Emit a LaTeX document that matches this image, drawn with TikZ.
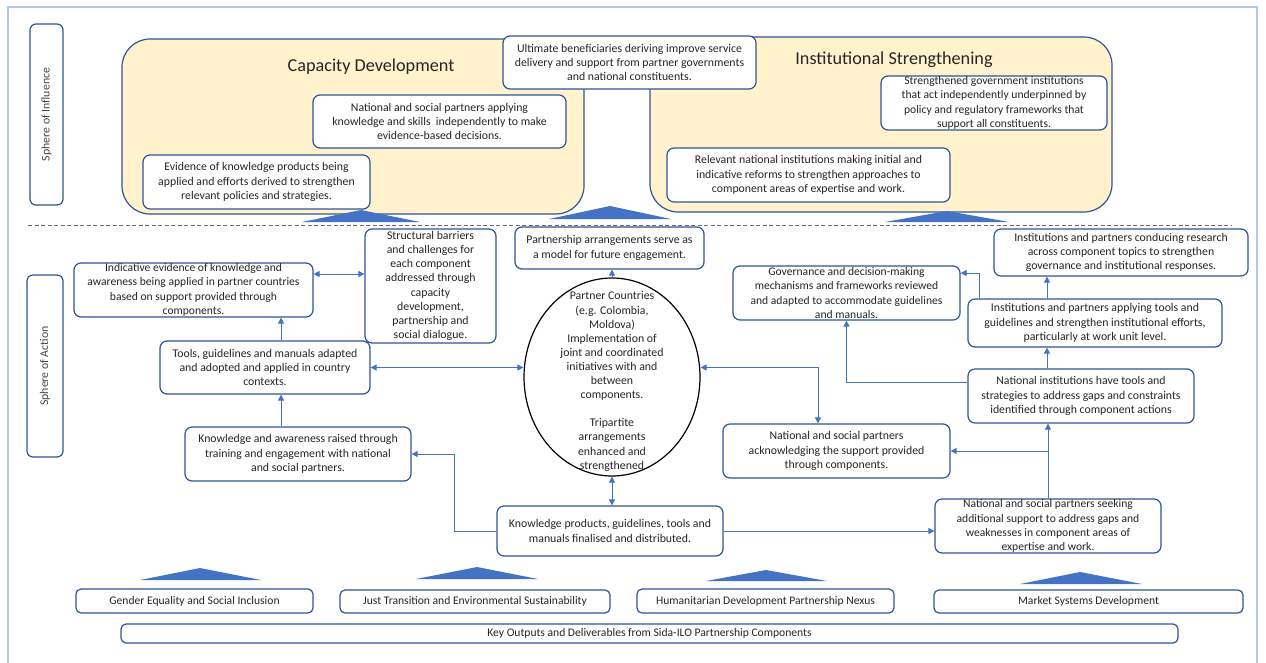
\documentclass[tikz,border=0pt]{standalone}
\usepackage{fontspec}
\setmainfont{Carlito}
\usetikzlibrary{arrows.meta,calc,shapes.geometric}
\definecolor{bord}{HTML}{2F5597}
\definecolor{lnk}{HTML}{4472C4}
\definecolor{cream}{HTML}{FFF2CC}
\definecolor{txt}{HTML}{262626}
\definecolor{frm}{HTML}{B4C7E7}
\begin{document}
\begin{tikzpicture}[x=1pt,y=-1pt,
  box/.style={draw=bord, line width=1.2pt, rounded corners=7pt, fill=white, align=center, inner sep=0pt, text=txt, font=\fontsize{11.8}{14.2}\selectfont},
  sbox/.style={box, font=\fontsize{11.6}{14.2}\selectfont},
  bbox/.style={box, rounded corners=5pt, font=\fontsize{11.6}{14}\selectfont},
  sphere/.style={draw=bord, line width=1.2pt, rounded corners=6pt, fill=white, inner sep=0pt},
  spheretext/.style={rotate=90, text=txt!85, font=\fontsize{11.8}{14}\selectfont, inner sep=0pt},
  container/.style={draw=bord, line width=1.2pt, rounded corners=28pt, fill=cream, inner sep=0pt},
  title/.style={text=txt, font=\fontsize{18.2}{22}\selectfont, inner sep=0pt},
  link/.style={draw=lnk, line width=0.9pt, -{Triangle[length=6pt,width=6pt]}},
  dlink/.style={draw=lnk, line width=0.9pt, {Triangle[length=6pt,width=6pt]}-{Triangle[length=6pt,width=6pt]}},
  tri/.style={fill=lnk}]
\useasboundingbox (0,0) rectangle (1266,662);
\fill[white] (0,0) rectangle (1266,662);
% outer frame
\draw[frm, line width=1.3pt] (8,664) -- (8,7) -- (1257,7) -- (1257,664);

% sphere labels
\node[sphere, minimum width=33pt, minimum height=181pt] (soi) at (46.5,114.5) {};
\node[spheretext] (soit) at (soi.center) {Sphere of Influence};
\node[sphere, minimum width=36pt, minimum height=182pt] (soa) at (45,366) {};
\node[spheretext] (soat) at (soa.center) {Sphere of Action};

% containers
\node[container, minimum width=462pt, minimum height=175pt] (cd) at (353,126.5) {};
\node[container, minimum width=462pt, minimum height=175pt] (is) at (881,124.5) {};
\node[title] (cdt) at (371,67) {Capacity Development};
\node[title] (ist) at (894,60) {Institutional Strengthening};

% top boxes
\node[box, minimum width=253pt, minimum height=53pt] (ult) at (629.5,62.5) {Ultimate beneficiaries deriving improve service\\delivery and support from partner governments\\and national constituents.};
\node[box, minimum width=253pt, minimum height=53pt] (napply) at (439.5,121.5) {National and social partners applying\\knowledge and skills\ \ independently to make\\evidence-based decisions.};
\node[box, minimum width=227pt, minimum height=54pt] (evid) at (256.5,182) {Evidence of knowledge products being\\applied and efforts derived to strengthen\\relevant policies and strategies.};
\node[sbox, minimum width=226pt, minimum height=54pt] (strong) at (994,103) {Strengthened government institutions\\that act independently underpinned by\\policy and regulatory frameworks that\\support all constituents.};
\node[box, minimum width=283pt, minimum height=54pt] (relev) at (808.5,175) {Relevant national institutions making initial and\\indicative reforms to strengthen approaches to\\component areas of expertise and work.};

% triangles top
\fill[tri] (302,222) -- (361,210) -- (420,222) -- cycle;
\fill[tri] (549,219) -- (610,206) -- (671,219) -- cycle;
\fill[tri] (885,222) -- (947,211) -- (1009,222) -- cycle;

% dashed separator
\draw[gray!85!black, line width=0.8pt, dash pattern=on 4pt off 2.5pt] (28,225) -- (1232,225);

% middle left
\node[box, minimum width=131pt, minimum height=114pt] (struct) at (430.5,286) {Structural barriers\\and challenges for\\each component\\addressed through\\capacity\\development,\\partnership and\\social dialogue.};
\node[sbox, minimum width=239pt, minimum height=54pt] (indic) at (193.5,290) {Indicative evidence of knowledge and\\awareness being applied in partner countries\\based on support provided through\\components.};
\node[box, minimum width=210pt, minimum height=53pt] (tools) at (265,367.5) {Tools, guidelines and manuals adapted\\and adopted and applied in country\\contexts.};
\node[box, minimum width=226pt, minimum height=54pt] (kar) at (298,454) {Knowledge and awareness raised through\\training and engagement with national\\and social partners.};

% center
\node[box, minimum width=189pt, minimum height=42pt] (partner) at (609.5,248) {Partnership arrangements serve as\\a model for future engagement.};
\node[draw=black, line width=1.2pt, ellipse, minimum width=176pt, minimum height=198pt, inner sep=0pt] (circ) at (612,377) {};
\node[align=center, text=txt, font=\fontsize{11.8}{14.1}\selectfont, inner sep=0pt] (circt) at (612,381.5) {Partner Countries\\(e.g. Colombia,\\Moldova)\\Implementation of\\joint and coordinated\\initiatives with and\\between\\components.\\[14.1pt]Tripartite\\arrangements\\enhanced and\\strengthened};
\node[box, minimum width=226pt, minimum height=50pt] (kp) at (610,531) {Knowledge products, guidelines, tools and\\manuals finalised and distributed.};

% right
\node[box, minimum width=254pt, minimum height=47pt] (research) at (1121,252.5) {Institutions and partners conducing research\\across component topics to strengthen\\governance and institutional responses.};
\node[sbox, minimum width=227pt, minimum height=54pt] (gov) at (846.5,293) {Governance and decision-making\\mechanisms and frameworks reviewed\\and adapted to accommodate guidelines\\and manuals.};
\node[box, minimum width=254pt, minimum height=48pt] (applying) at (1095,323) {Institutions and partners applying tools and\\guidelines and strengthen institutional efforts,\\particularly at work unit level.};
\node[box, minimum width=226pt, minimum height=54pt] (ni) at (1081,396) {National institutions have tools and\\strategies to address gaps and constraints\\identified through component actions};
\node[box, minimum width=227pt, minimum height=54pt] (ack) at (836.5,451) {National and social partners\\acknowledging the support provided\\through components.};
\node[sbox, minimum width=226pt, minimum height=54pt] (seek) at (1048,526) {National and social partners seeking\\additional support to address gaps and\\weaknesses in component areas of\\expertise and work.};

% connectors
\draw[dlink] ([yshift=16pt]indic.east) -- ([yshift=16pt]indic.east -| struct.west);
\draw[link] ([xshift=16pt]tools.north) -- ([xshift=16pt]tools.north |- indic.south);
\draw[link] ([xshift=-17pt]kar.north) -- ([xshift=-17pt]kar.north |- tools.south);
\draw[dlink] (tools.east) -- (tools.east -| circ.west);
\draw[link] (circ.north) -- (circ.north |- partner.south);
\draw[dlink] (circ.south) -- (circ.south |- kp.north);
\draw[link] (kp.west) -| ([xshift=43pt]kar.east) -- (kar.east);
\draw[link] (kp.east) -- (kp.east -| seek.west);
\draw[dlink] (tools.east -| circ.east) -| ([xshift=-18.5pt]ack.north);
\draw[link] (seek.north) -- (seek.north |- ni.south);
\draw[link] (seek.north |- ack.east) -- (ack.east);
\draw[link] ([xshift=-34pt]ni.north) -- ([xshift=-34pt]ni.north |- applying.south);
\draw[link] ([xshift=-48pt]applying.north) -- ([xshift=-48pt]applying.north |- research.south);
\draw[link] ([xshift=-116pt]applying.north) |- ([yshift=20pt]gov.east);
\draw[link] ([yshift=14pt]ni.west) -| (gov.south);

% bottom triangles
\fill[tri] (140,580) -- (200,568) -- (261,580) -- cycle;
\fill[tri] (416,579) -- (477,567) -- (538,579) -- cycle;
\fill[tri] (706,581) -- (766,570) -- (827,581) -- cycle;
\fill[tri] (1020,584) -- (1080,572) -- (1142,584) -- cycle;

% bottom boxes
\node[bbox, minimum width=237pt, minimum height=24pt] (gesi) at (194.5,601) {Gender Equality and Social Inclusion};
\node[bbox, minimum width=270pt, minimum height=23pt] (jtes) at (475,601.5) {Just Transition and Environmental Sustainability};
\node[bbox, minimum width=257pt, minimum height=24pt] (hdpn) at (765.5,601) {Humanitarian Development Partnership Nexus};
\node[bbox, minimum width=309pt, minimum height=23pt] (msd) at (1088.5,601.5) {Market Systems Development};
\node[bbox, minimum width=1057pt, minimum height=19pt] (key) at (649.5,633.5) {Key Outputs and Deliverables from Sida-ILO Partnership Components};
\end{tikzpicture}
\end{document}
